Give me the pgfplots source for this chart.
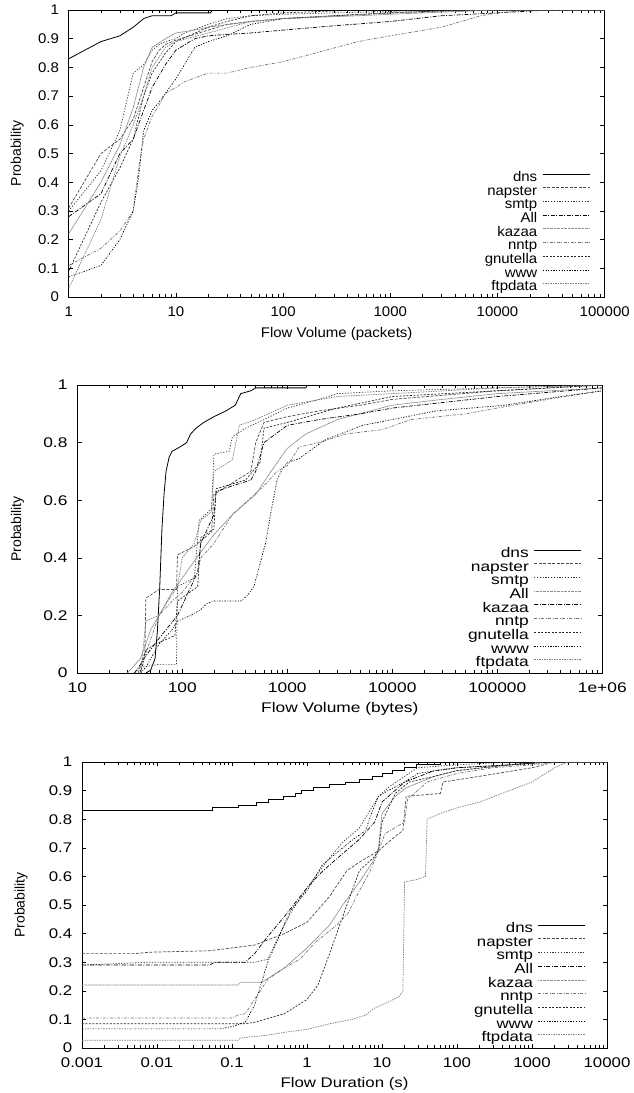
\documentclass[border=0pt]{standalone}
\usepackage{pgfplots}
\pgfplotsset{compat=1.18}
\usepackage{fontspec}
\setmainfont{Liberation Sans}
\newfontfamily\fa{Liberation Sans}[FakeStretch=1.07]
\newfontfamily\fb{Liberation Sans}[FakeStretch=1.24]
\newfontfamily\fc{Liberation Sans}[FakeStretch=1.2]
\newfontfamily\ylabfont{Liberation Sans}

\tikzset{
  sdns/.style={black, solid, line width=0.8pt},
  snap/.style={black!70, line width=0.7pt, dash pattern=on 3pt off 1.5pt},
  ssmtp/.style={black!80, line width=0.7pt, dash pattern=on 1.2pt off 1.6pt},
  sall/.style={black, line width=0.7pt, dash pattern=on 4pt off 1.5pt on 1pt off 1.5pt},
  skaz/.style={black!45, line width=0.7pt, dash pattern=on 1pt off 0.4pt},
  snntp/.style={black!55, line width=0.7pt, dash pattern=on 3pt off 1.5pt on 1pt off 1.5pt},
  sgnu/.style={black!85, line width=0.7pt, dash pattern=on 2pt off 1.5pt},
  swww/.style={black, line width=0.7pt, dash pattern=on 1.5pt off 1.5pt on 0.8pt off 1.5pt},
  sftp/.style={black!50, line width=0.7pt, dash pattern=on 1.5pt off 1pt},
}

\pgfplotsset{
  cdfaxis/.style={
    scale only axis,
    ymin=0, ymax=1,
    axis line style={line width=0.6pt},
    every tick/.style={black, line width=0.5pt},
    x tick label style={yshift=-5pt},
    y tick label style={xshift=-5pt},
    ylabel={\ylabfont Probability},
    legend cell align=right,
    legend plot pos=right,
    legend image code/.code={\draw[##1] (0pt,3.8pt) -- (47pt,3.8pt);},
    legend style={draw=none, fill=none, anchor=south east, inner sep=0pt,
      row sep=0.7pt, column sep=5pt,
      nodes={inner sep=0pt, text height=10pt, text depth=3pt}},
  },
}

\begin{document}
\fontsize{14pt}{16pt}\selectfont
\begin{tikzpicture}
\useasboundingbox (0pt,0pt) rectangle (634pt,-1093pt);

% ---- flow volume in packets ----
\begin{semilogxaxis}[cdfaxis,
  at={(68.7pt,-297pt)}, anchor=south west,
  width=536pt, height=287pt,
  xmin=1, xmax=100000,
  every tick label/.append style={font=\fa},
  xtick={1,10,100,1000,10000,100000},
  xticklabels={1,10,100,1000,10000,100000},
  ytick={0,0.1,0.2,0.3,0.4,0.5,0.6,0.7,0.8,0.9,1},
  yticklabels={0,0.1,0.2,0.3,0.4,0.5,0.6,0.7,0.8,0.9,1},
  xlabel={Flow Volume (packets)},
  every axis x label/.style={at={(axis description cs:0.5,-0.127)}, anchor=center, font=\fa},
  every axis y label/.style={at={(axis description cs:-0.096,0.5)}, rotate=90, anchor=center},
  legend style={at={(0.973,0.010)}, font=\fa},
]
\addplot[sdns] coordinates {(1,0.83)(2,0.89)(3,0.91)(4,0.94)(5,0.97)(6,0.98)(9,0.98)(10,0.99)(21,0.99)(22,1)(100000,1)};
\addplot[snap] coordinates {(1,0.31)(2,0.50)(3,0.55)(4,0.62)(5,0.73)(6,0.82)(7,0.86)(8,0.88)(10,0.895)(20,0.93)(30,0.95)(50,0.96)(100,0.97)(300,0.98)(1000,0.99)(5000,1)(100000,1)};
\addplot[ssmtp] coordinates {(1,0.30)(2,0.44)(3,0.58)(4,0.78)(5,0.81)(6,0.86)(7,0.88)(8,0.89)(10,0.90)(12,0.92)(20,0.95)(30,0.97)(50,0.98)(100,0.985)(300,0.99)(1000,0.995)(3000,1)(100000,1)};
\addplot[sall] coordinates {(1,0.28)(2,0.36)(3,0.50)(4,0.55)(5,0.65)(6,0.73)(8,0.81)(10,0.86)(15,0.90)(20,0.91)(30,0.915)(50,0.92)(100,0.93)(300,0.945)(1000,0.96)(3000,0.98)(10000,0.99)(30000,1)(100000,1)};
\addplot[skaz] coordinates {(1,0.22)(2,0.40)(3,0.53)(4,0.66)(5,0.80)(6,0.87)(8,0.90)(10,0.92)(15,0.93)(20,0.94)(50,0.96)(100,0.97)(500,0.98)(2000,0.99)(10000,1)(100000,1)};
\addplot[snntp] coordinates {(1,0.11)(2,0.17)(3,0.23)(4,0.30)(4.5,0.45)(5,0.55)(6,0.63)(7,0.67)(8,0.71)(10,0.73)(12,0.75)(20,0.78)(30,0.78)(50,0.80)(100,0.82)(200,0.85)(500,0.89)(1000,0.91)(3000,0.94)(7000,0.98)(10000,0.99)(20000,1)(100000,1)};
\addplot[sgnu] coordinates {(1,0.09)(2,0.33)(3,0.45)(4,0.55)(5,0.70)(6,0.78)(8,0.85)(10,0.89)(20,0.94)(30,0.96)(50,0.98)(100,0.99)(500,1)(100000,1)};
\addplot[swww] coordinates {(1,0.07)(2,0.11)(3,0.20)(4,0.30)(4.5,0.42)(5,0.58)(6,0.65)(7,0.68)(8,0.71)(10,0.76)(15,0.87)(20,0.89)(30,0.91)(50,0.95)(100,0.97)(300,0.98)(1000,0.99)(5000,1)(100000,1)};
\addplot[sftp] coordinates {(1,0.03)(2,0.27)(3,0.49)(4,0.60)(5,0.70)(6,0.80)(8,0.87)(10,0.89)(20,0.92)(50,0.96)(100,0.97)(1000,0.99)(10000,1)(100000,1)};
\legend{dns,napster,smtp,All,kazaa,nntp,gnutella,www,ftpdata}
\end{semilogxaxis}

% ---- flow volume in bytes ----
\begin{semilogxaxis}[cdfaxis,
  at={(77.3pt,-673pt)}, anchor=south west,
  width=525pt, height=288pt,
  xmin=10, xmax=1000000,
  every tick label/.append style={font=\fb},
  xtick={10,100,1000,10000,100000,1000000},
  xticklabels={10,100,1000,10000,100000,1e+06},
  ytick={0,0.2,0.4,0.6,0.8,1},
  yticklabels={0,0.2,0.4,0.6,0.8,1},
  xlabel={Flow Volume (bytes)},
  every axis x label/.style={at={(axis description cs:0.5,-0.123)}, anchor=center, font=\fb},
  every axis y label/.style={at={(axis description cs:-0.114,0.5)}, rotate=90, anchor=center},
  legend style={at={(0.961,0.010)}, font=\fb},
]
\addplot[sdns] coordinates {(45,0)(50,0.01)(55,0.05)(58,0.15)(61,0.30)(64,0.50)(67,0.62)(70,0.70)(75,0.75)(80,0.77)(90,0.78)(100,0.79)(110,0.80)(120,0.83)(135,0.85)(160,0.87)(200,0.89)(260,0.91)(320,0.93)(360,0.97)(450,0.98)(500,0.99)(1500,0.99)(1550,1)(1000000,1)};
\addplot[snap] coordinates {(38,0)(42,0.05)(44,0.07)(45,0.26)(60,0.29)(88,0.29)(90,0.41)(130,0.44)(190,0.49)(200,0.62)(300,0.66)(450,0.70)(500,0.80)(600,0.87)(1000,0.89)(2000,0.91)(5000,0.93)(10000,0.95)(100000,0.98)(1000000,1)};
\addplot[ssmtp] coordinates {(35,0)(40,0.02)(60,0.03)(88,0.03)(90,0.30)(130,0.33)(145,0.53)(190,0.57)(200,0.76)(280,0.77)(300,0.82)(400,0.85)(600,0.88)(1000,0.92)(2000,0.95)(3000,0.97)(10000,0.98)(100000,0.99)(1000000,1)};
\addplot[skaz] coordinates {(30,0)(40,0.05)(50,0.15)(60,0.20)(80,0.28)(100,0.33)(150,0.42)(200,0.48)(300,0.55)(500,0.62)(700,0.70)(1000,0.78)(1500,0.83)(3000,0.88)(10000,0.93)(30000,0.95)(100000,0.97)(1000000,0.99)};
\addplot[sall] coordinates {(35,0)(40,0.03)(45,0.06)(60,0.12)(90,0.20)(140,0.35)(150,0.45)(200,0.55)(210,0.63)(300,0.65)(450,0.67)(500,0.70)(600,0.80)(1000,0.86)(2000,0.88)(5000,0.90)(10000,0.92)(100000,0.96)(1000000,0.99)};
\addplot[snntp] coordinates {(40,0)(45,0.07)(60,0.20)(80,0.25)(100,0.28)(140,0.35)(150,0.40)(200,0.45)(300,0.55)(600,0.65)(800,0.70)(1000,0.72)(1300,0.785)(2000,0.80)(3600,0.83)(8000,0.845)(15000,0.88)(50000,0.90)(100000,0.92)(300000,0.95)(1000000,0.98)};
\addplot[sgnu] coordinates {(40,0)(45,0.08)(55,0.10)(85,0.13)(90,0.25)(140,0.30)(150,0.47)(200,0.50)(210,0.64)(400,0.67)(550,0.73)(600,0.85)(1000,0.87)(3000,0.92)(10000,0.96)(100000,0.98)(1000000,1)};
\addplot[swww] coordinates {(40,0)(45,0.02)(50,0.05)(60,0.10)(80,0.15)(90,0.18)(120,0.20)(150,0.22)(170,0.24)(200,0.25)(360,0.25)(420,0.27)(480,0.30)(550,0.38)(620,0.45)(700,0.56)(800,0.67)(900,0.71)(1000,0.73)(1300,0.745)(2300,0.81)(5200,0.86)(26000,0.91)(120000,0.93)(400000,0.96)(1000000,0.98)};
\addplot[sftp] coordinates {(40,0)(45,0.18)(60,0.20)(70,0.24)(90,0.30)(100,0.40)(130,0.45)(150,0.53)(190,0.56)(200,0.70)(300,0.74)(350,0.86)(500,0.88)(1000,0.93)(3000,0.96)(10000,0.97)(100000,0.99)(1000000,1)};
\legend{dns,napster,smtp,All,kazaa,nntp,gnutella,www,ftpdata}
\end{semilogxaxis}

% ---- flow duration ----
\begin{semilogxaxis}[cdfaxis,
  at={(82pt,-1048pt)}, anchor=south west,
  width=525pt, height=286pt,
  xmin=0.001, xmax=10000,
  every tick label/.append style={font=\fc},
  xtick={0.001,0.01,0.1,1,10,100,1000,10000},
  xticklabels={0.001,0.01,0.1,1,10,100,1000,10000},
  ytick={0,0.1,0.2,0.3,0.4,0.5,0.6,0.7,0.8,0.9,1},
  yticklabels={0,0.1,0.2,0.3,0.4,0.5,0.6,0.7,0.8,0.9,1},
  xlabel={Flow Duration (s)},
  every axis x label/.style={at={(axis description cs:0.5,-0.124)}, anchor=center, font=\fc},
  every axis y label/.style={at={(axis description cs:-0.116,0.5)}, rotate=90, anchor=center},
  legend style={at={(0.96,0.010)}, font=\fc},
]
\addplot[sdns, const plot] coordinates {(0.001,0.83)(0.055,0.84)(0.12,0.85)(0.21,0.86)(0.31,0.87)(0.48,0.88)(0.69,0.89)(0.83,0.90)(1.2,0.91)(2.0,0.92)(3.3,0.93)(5,0.94)(7.4,0.95)(10,0.96)(13.7,0.97)(20,0.98)(29,0.99)(60,1)(10000,1)};
\addplot[snap] coordinates {(0.001,0.33)(0.005,0.33)(0.008,0.335)(0.05,0.34)(0.1,0.35)(0.2,0.36)(0.5,0.40)(1,0.44)(2,0.53)(3.4,0.62)(5,0.65)(9,0.69)(15,0.74)(19,0.76)(21,0.88)(60,0.89)(65,0.93)(200,0.95)(1000,0.98)(2000,1)(10000,1)};
\addplot[ssmtp] coordinates {(0.001,0.29)(0.008,0.30)(0.2,0.30)(0.3,0.31)(0.4,0.38)(0.6,0.47)(1,0.56)(1.8,0.65)(3,0.72)(5,0.77)(9,0.88)(12,0.91)(20,0.95)(30,0.98)(100,0.99)(500,1)(10000,1)};
\addplot[sall] coordinates {(0.001,0.29)(0.05,0.29)(0.06,0.30)(0.15,0.30)(0.2,0.33)(0.3,0.39)(0.5,0.46)(1,0.56)(1.5,0.61)(2,0.64)(3,0.68)(5,0.73)(8,0.79)(10,0.86)(20,0.93)(50,0.97)(100,0.98)(500,0.99)(1500,1)(10000,1)};
\addplot[skaz] coordinates {(0.001,0.22)(0.12,0.22)(0.13,0.23)(0.25,0.23)(0.5,0.28)(1,0.35)(2,0.43)(3,0.50)(5,0.58)(7.5,0.65)(9,0.70)(10,0.82)(15,0.88)(21,0.91)(50,0.95)(100,0.97)(500,0.99)(1500,1)(10000,1)};
\addplot[snntp] coordinates {(0.001,0.105)(0.1,0.105)(0.12,0.115)(0.15,0.12)(0.2,0.17)(0.3,0.24)(0.5,0.28)(0.8,0.31)(1.3,0.37)(2.5,0.43)(3.5,0.47)(5,0.55)(7,0.62)(9,0.69)(11,0.75)(20,0.79)(22,0.87)(40,0.93)(100,0.96)(300,0.98)(1000,0.99)(2000,1)(10000,1)};
\addplot[sgnu] coordinates {(0.001,0.085)(0.15,0.085)(0.2,0.09)(0.5,0.12)(1,0.17)(1.4,0.22)(2,0.33)(3.4,0.50)(5,0.62)(8,0.67)(9,0.69)(10,0.79)(15,0.89)(23,0.93)(50,0.95)(100,0.97)(500,0.99)(1500,1)(10000,1)};
\addplot[swww] coordinates {(0.001,0.067)(0.07,0.067)(0.1,0.075)(0.15,0.09)(0.2,0.15)(0.3,0.30)(0.6,0.48)(1,0.55)(1.6,0.64)(3.7,0.72)(6,0.76)(8,0.85)(9,0.88)(12,0.90)(20,0.93)(30,0.96)(100,0.98)(500,0.99)(2000,1)(10000,1)};
\addplot[sftp] coordinates {(0.001,0.027)(0.12,0.027)(0.13,0.035)(0.3,0.045)(0.5,0.055)(1,0.065)(2,0.085)(4,0.10)(6,0.115)(8,0.14)(12,0.16)(17,0.18)(19,0.20)(20,0.58)(30,0.59)(38,0.60)(40,0.80)(60,0.82)(100,0.84)(200,0.86)(500,0.90)(1000,0.93)(2000,0.98)(3000,1)(10000,1)};
\legend{dns,napster,smtp,All,kazaa,nntp,gnutella,www,ftpdata}
\end{semilogxaxis}
\end{tikzpicture}
\end{document}
